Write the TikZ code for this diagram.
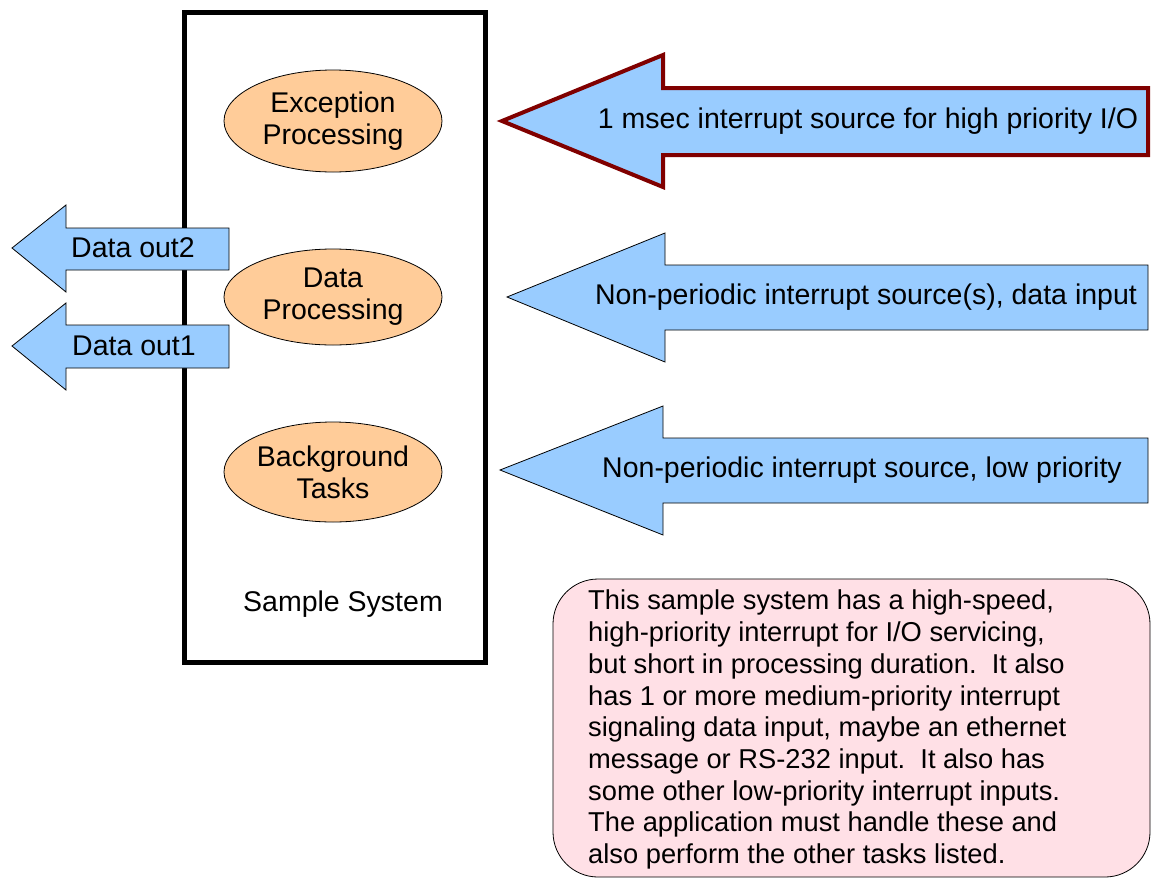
\documentclass[tikz,border=0pt]{standalone}
\usepackage{fontspec}
\setmainfont{Liberation Sans}
\usetikzlibrary{shapes.geometric}
\definecolor{arrowblue}{RGB}{153,204,255}
\definecolor{peach}{RGB}{255,204,153}
\definecolor{notepink}{RGB}{255,224,230}
\definecolor{hotred}{RGB}{128,0,0}
\begin{document}
\begin{tikzpicture}[x=1pt,y=-1pt,
  txt/.style={font=\fontsize{28.5}{32}\selectfont, inner sep=0pt},
  task/.style={ellipse, draw=black, line width=0.8pt, fill=peach,
    minimum width=218pt, inner sep=0pt, align=center, txt},
  bluearrow/.style={fill=arrowblue, draw=black, line width=0.8pt, line join=miter},
  hotarrow/.style={fill=arrowblue, draw=hotred, line width=4pt, line join=miter}]
\useasboundingbox (0,0) rectangle (1151,879);

% system boundary
\draw[line width=5pt] (184,12) rectangle (485,662);

% task ellipses
\node[task, minimum height=102pt] (exc) at (333,121) {Exception\\Processing};
\node[task, minimum height=96pt]  (dat) at (333,297) {Data\\Processing};
\node[task, minimum height=100pt] (bg)  at (333,472) {Background\\Tasks};
\node[txt] (sys) at (343,604) {Sample System};

% output arrows
\filldraw[bluearrow] (12,248) -- (66,205) -- (66,228) -- (229,228) -- (229,270)
  -- (66,270) -- (66,292) -- cycle;
\node[txt] (out2) at (133,248) {Data out2};
\filldraw[bluearrow] (12,346) -- (66,303) -- (66,325) -- (229,325) -- (229,368)
  -- (66,368) -- (66,390) -- cycle;
\node[txt] (out1) at (134,346) {Data out1};

% interrupt sources
\filldraw[hotarrow] (502,121) -- (663,55) -- (663,88) -- (1148,88) -- (1148,155)
  -- (663,155) -- (663,187) -- cycle;
\node[txt] (irq1) at (868,121) {1 msec interrupt source for high priority I/O};
\filldraw[bluearrow] (507,297) -- (665,233) -- (665,265) -- (1148,265) -- (1148,330)
  -- (665,330) -- (665,362) -- cycle;
\node[txt] (irq2) at (866,297) {Non-periodic interrupt source(s), data input};
\filldraw[bluearrow] (500,470) -- (663,406) -- (663,438) -- (1148,438) -- (1148,503)
  -- (663,503) -- (663,535) -- cycle;
\node[txt] (irq3) at (862,470) {Non-periodic interrupt source, low priority};

% explanatory note
\filldraw[fill=notepink, draw=black, line width=0.8pt, rounded corners=45pt]
  (553,579) rectangle (1150,877);
\node[anchor=north west, inner sep=0pt, align=left,
  font=\fontsize{27.3}{31.7}\selectfont] (note) at (588,590)
  {This sample system has a high-speed,\\
   high-priority interrupt for I/O servicing,\\
   but short in processing duration.\ \ It also\\
   has 1 or more medium-priority interrupt\\
   signaling data input, maybe an ethernet\\
   message or RS-232 input.\ \ It also has\\
   some other low-priority interrupt inputs.\\
   The application must handle these and\\
   also perform the other tasks listed.};
\end{tikzpicture}
\end{document}
